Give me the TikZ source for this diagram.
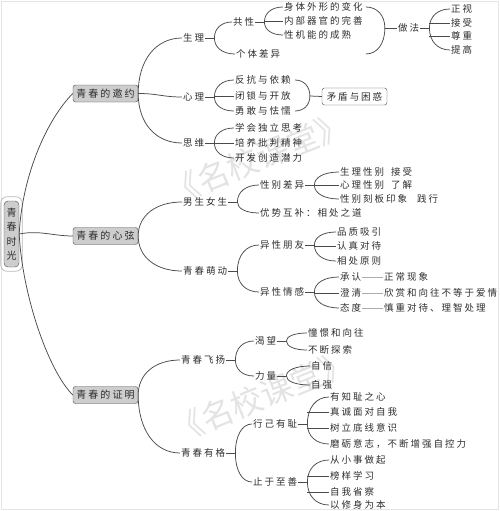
\documentclass[tikz,border=0pt]{standalone}
\usepackage{fontspec}
\usetikzlibrary{calc}
\newfontfamily\cjk[LetterSpace=21]{Noto Sans CJK SC}
\newfontfamily\wmfont{Noto Sans CJK SC}
\definecolor{lc}{HTML}{4A4A4A}
\definecolor{tc}{HTML}{2E2E2E}
\definecolor{nf}{HTML}{CDCDCD}
\tikzset{
  ln/.style={draw=lc, line width=0.75pt},
  gl/.style={draw=gray!65, line width=0.6pt},
  t/.style={anchor=west, inner sep=1pt, text=tc, font=\cjk\fontsize{9.5}{11}\selectfont},
  lone/.style={draw=lc, fill=nf, rounded corners=2.5pt, minimum width=65pt, minimum height=17pt, inner sep=0pt, text=tc, font=\cjk\fontsize{10}{11}\selectfont},
  boxw/.style={draw=lc, fill=white, rounded corners=2.5pt, minimum width=65pt, minimum height=17pt, inner sep=0pt, text=tc, font=\cjk\fontsize{9.5}{11}\selectfont},
  wm/.style={text=gray!22, font=\wmfont\fontsize{32}{32}\selectfont, rotate=22, inner sep=0pt},
}
% quarter-ellipse connector from parent east to child west
\newcommand\qc[2]{%
  \draw[ln] (#1.east) .. controls ($(#1.east)!0.6!(#1.east |- #2.west)$) and ($(#2.west)!0.6!(#1.east |- #2.west)$) .. (#2.west);}
% bracket: parent, first child, last child
\newcommand\brk[3]{%
  \draw[ln] (#1.east) -- ([xshift=9pt]#1.east) coordinate (bul);
  \draw[ln] (#2.west) .. controls ($(#2.west)!0.6!(bul |- #2.west)$) and ($(bul)!0.6!(bul |- #2.west)$) .. (bul)
     .. controls ($(bul)!0.6!(bul |- #3.west)$) and ($(#3.west)!0.6!(bul |- #3.west)$) .. (#3.west);}
\newcommand\midln[1]{\draw[ln] (bul |- #1.west) -- (#1.west);}
\begin{document}
\begin{tikzpicture}[x=1pt,y=-1pt]
\useasboundingbox (0,0) rectangle (500,511);
\draw[gray!20, line width=0.6pt] (1.5,1.5) rectangle (498.5,509.5);
% watermarks
\node[wm] (wma) at (258,158) {《名校课堂》};
\node[wm] (wmb) at (262,396) {《名校课堂》};

% root
\node[draw=lc, fill=nf, rounded corners=4pt, minimum width=15pt, minimum height=66pt, inner sep=0pt,
      align=center, text=tc, font=\cjk\fontsize{10}{14.5}\selectfont] (rt) at (11.5,234) {青\\春\\时\\光};
\draw[gray!55, line width=0.7pt, rounded corners=6pt] ([shift={(-3,4)}]rt.south west) rectangle ([shift={(3,-4)}]rt.north east);

% level 1
\node[lone] (yy) at (105.5,93.5) {青春的邀约};
\node[lone] (xx) at (105.5,236) {青春的心弦};
\node[lone] (zm) at (105.5,395) {青春的证明};
\draw[ln] (rt.east) .. controls +(3,-60) and +(-25,25) .. (yy.west);
\draw[ln] (rt.east) .. controls +(20,-4) and +(-20,0) .. (xx.west);
\draw[ln] (rt.east) .. controls +(3,60) and +(-25,-25) .. (zm.west);

% level 2
\node[t] (sl) at (182,38) {生理};
\node[t] (xl) at (182,97) {心理};
\node[t] (sw) at (182,143) {思维};
\node[t] (nn) at (182,202) {男生女生};
\node[t] (qm) at (182,271) {青春萌动};
\node[t] (fy) at (180,360) {青春飞扬};
\node[t] (yg) at (180,453) {青春有格};
\qc{yy}{sl}
\draw[ln] (yy.east) .. controls +(20,0) and +(-20,0) .. (xl.west);
\qc{yy}{sw}
\qc{xx}{nn}
\qc{xx}{qm}
\qc{zm}{fy}
\qc{zm}{yg}

% 生理
\node[t] (gx) at (232,22) {共性};
\node[t] (gt) at (235,54) {个体差异};
\brk{sl}{gx}{gt}
\node[t] (sa) at (283,7) {身体外形的变化};
\node[t] (sb) at (283,21) {内部器官的完善};
\node[t] (sc) at (283,35) {性机能的成熟};
\brk{gx}{sa}{sc}
\midln{sb}
\node[t] (zf) at (397,28) {做法};
\coordinate (bt) at ([xshift=2pt]sa.east);
\coordinate (bb) at ([xshift=2pt]sa.east |- gt.east);
\coordinate (bm) at ([xshift=21pt]sa.east |- zf.west);
\draw[ln] (bt) .. controls ($(bt)!0.6!(bm |- bt)$) and ($(bm)!0.6!(bm |- bt)$) .. (bm)
   .. controls ($(bm)!0.6!(bm |- bb)$) and ($(bb)!0.6!(bm |- bb)$) .. (bb);
\draw[ln] (bm) -- (zf.west);
\node[t] (za) at (450,9) {正视};
\node[t] (zb) at (450,23) {接受};
\node[t] (zc) at (450,36) {尊重};
\node[t] (zd) at (450,50) {提高};
\brk{zf}{za}{zd}
\midln{zb}\midln{zc}

% 心理
\node[t] (fa) at (234,80) {反抗与依赖};
\node[t] (fb) at (234,96) {闭锁与开放};
\node[t] (fc) at (234,111) {勇敢与怯懦};
\brk{xl}{fa}{fc}
\midln{fb}
\node[boxw] (md) at (354.5,96.5) {矛盾与困惑};
\coordinate (ct) at ([xshift=3pt]fa.east);
\coordinate (cb) at ([xshift=3pt]fc.east);
\coordinate (cm) at ([xshift=18pt]fb.east);
\draw[ln] (ct) .. controls ($(ct)!0.6!(cm |- ct)$) and ($(cm)!0.6!(cm |- ct)$) .. (cm)
   .. controls ($(cm)!0.6!(cm |- cb)$) and ($(cb)!0.6!(cm |- cb)$) .. (cb);
\draw[ln] (cm) -- (md.west);

% 思维
\node[t] (wa) at (234,128) {学会独立思考};
\node[t] (wb) at (234,143) {培养批判精神};
\node[t] (wc) at (234,158) {开发创造潜力};
\brk{sw}{wa}{wc}
\midln{wb}

% 男生女生
\node[t] (xb) at (259,185) {性别差异};
\node[t] (ys) at (259,213) {优势互补：相处之道};
\brk{nn}{xb}{ys}
\node[t] (ba) at (339,172) {生理性别\hspace{7pt}接受};
\node[t] (bbb) at (339,185) {心理性别\hspace{7pt}了解};
\node[t] (bc) at (339,199) {性别刻板印象\hspace{10pt}践行};
\brk{xb}{ba}{bc}
\midln{bbb}

% 青春萌动
\node[t] (yp) at (259,245) {异性朋友};
\node[t] (yq) at (259,292) {异性情感};
\brk{qm}{yp}{yq}
\node[t] (pa) at (336,232) {品质吸引};
\node[t] (pb) at (336,246) {认真对待};
\node[t] (pc) at (336,261) {相处原则};
\brk{yp}{pa}{pc}
\midln{pb}
\node[t] (qa) at (339,277) {承认};
\node[t] (qb) at (339,293) {澄清};
\node[t] (qc) at (339,308) {态度};
\brk{yq}{qa}{qc}
\midln{qb}
\node[t] (ra) at (383,277) {正常现象};
\node[t] (rb) at (383,293) {欣赏和向往不等于爱情};
\node[t] (rc) at (383,308) {慎重对待、理智处理};
\draw[gl] (qa.east) -- (ra.west);
\draw[gl] (qb.east) -- (rb.west);
\draw[gl] (qc.east) -- (rc.west);

% 青春飞扬
\node[t] (kw) at (254,341) {渴望};
\node[t] (ll) at (254,376) {力量};
\brk{fy}{kw}{ll}
\node[t] (ka) at (307,333) {憧憬和向往};
\node[t] (kb) at (307,350) {不断探索};
\brk{kw}{ka}{kb}
\node[t] (ma) at (310,366) {自信};
\node[t] (mb) at (310,385) {自强};
\brk{ll}{ma}{mb}

% 青春有格
\node[t] (xj) at (252,424) {行己有耻};
\node[t] (zs) at (252,482) {止于至善};
\brk{yg}{xj}{zs}
\node[t] (ha) at (329,397) {有知耻之心};
\node[t] (hb) at (329,412) {真诚面对自我};
\node[t] (hc) at (329,428) {树立底线意识};
\node[t] (hd) at (329,444) {磨砺意志，不断增强自控力};
\brk{xj}{ha}{hd}
\midln{hb}\midln{hc}
\node[t] (ga) at (329,460) {从小事做起};
\node[t] (gb) at (329,476) {榜样学习};
\node[t] (gc) at (329,492) {自我省察};
\node[t] (gd) at (329,505) {以修身为本};
\brk{zs}{ga}{gd}
\midln{gb}\midln{gc}
\end{tikzpicture}
\end{document}
